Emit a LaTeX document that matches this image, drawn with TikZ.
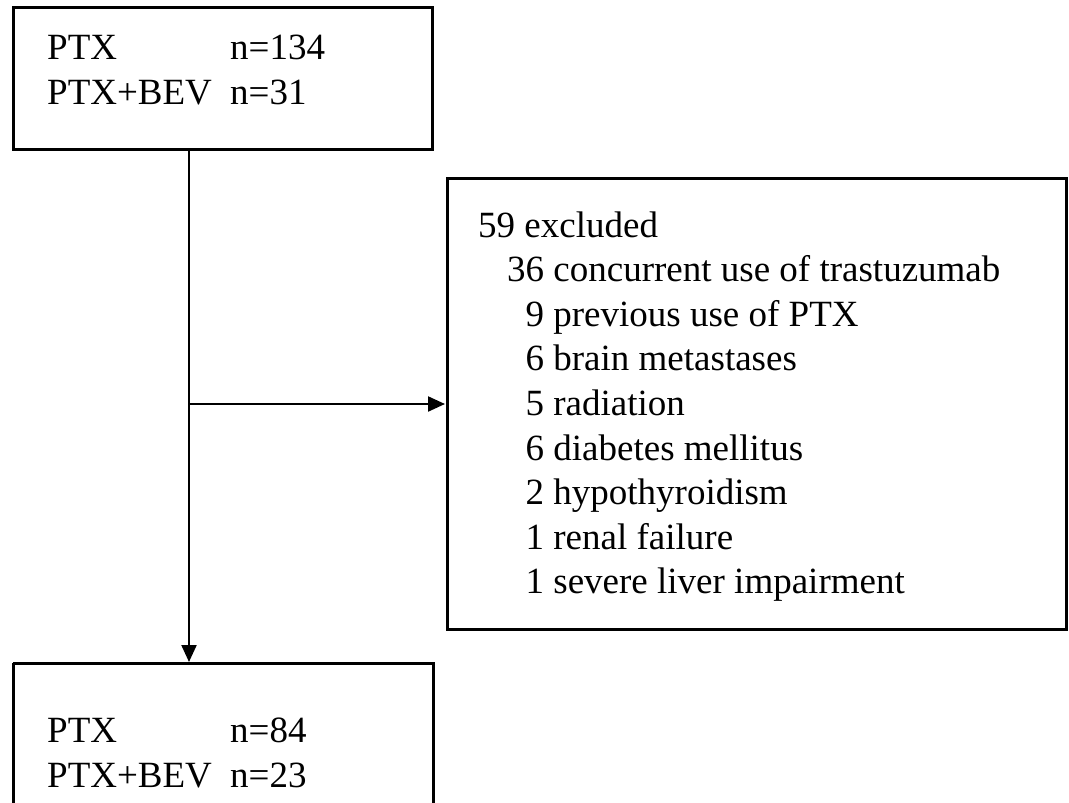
\documentclass[tikz,border=0pt]{standalone}
\usepackage{fontspec}
\setmainfont{Liberation Serif}
\usetikzlibrary{arrows.meta}
\begin{document}
\begin{tikzpicture}[x=1pt,y=-1pt,
  boxline/.style={draw=black,line width=3pt},
  txt/.style={anchor=base west,inner sep=0pt,font=\fontsize{37}{44.6}\selectfont},
  conn/.style={draw=black,line width=2.2pt,-{Triangle[length=17pt,width=15pt]}}]
\useasboundingbox (0,0) rectangle (1069,803);
\begin{scope}
\clip (0,0) rectangle (1069,803);
% boxes
\draw[boxline] (13,7) rectangle (432,149);
\draw[boxline] (447,178) rectangle (1066,629);
\draw[boxline] (13,663) -- (13,820) (13,663) -- (433,663) -- (433,820);
\end{scope}
\coordinate (topbot) at (189,149);
\coordinate (split) at (189,404);
\coordinate (excl) at (445,404);
\coordinate (botop) at (189,662);
% top box text
\node[txt] (t1) at (47,59) {\makebox[183pt][l]{PTX}n=134};
\node[txt] (t2) at (47,104) {\makebox[183pt][l]{PTX+BEV}n=31};
% bottom box text
\node[txt] (b1) at (47,742) {\makebox[183pt][l]{PTX}n=84};
\node[txt] (b2) at (47,787) {\makebox[183pt][l]{PTX+BEV}n=23};
% exclusion text
\node[txt] (e0) at (478,237) {59 excluded};
\node[txt] (e1) at (507,281.6) {36 concurrent use of trastuzumab};
\node[txt] (e2) at (507,326.2) {\phantom{3}9 previous use of PTX};
\node[txt] (e3) at (507,370.8) {\phantom{3}6 brain metastases};
\node[txt] (e4) at (507,415.4) {\phantom{3}5 radiation};
\node[txt] (e5) at (507,460) {\phantom{3}6 diabetes mellitus};
\node[txt] (e6) at (507,504.6) {\phantom{3}2 hypothyroidism};
\node[txt] (e7) at (507,549.2) {\phantom{3}1 renal failure};
\node[txt] (e8) at (507,593.8) {\phantom{3}1 severe liver impairment};
% connectors
\draw[conn] (topbot) -- (botop);
\draw[conn] (split) -- (excl);
\end{tikzpicture}
\end{document}
